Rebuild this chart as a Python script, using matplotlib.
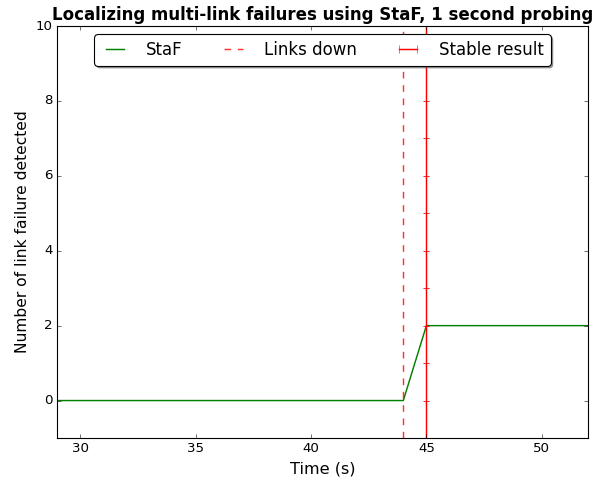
import matplotlib
matplotlib.use('Agg')
import matplotlib.pyplot as plt
from matplotlib.lines import Line2D

plt.style.use('classic')

# data
staf_t = [29, 44, 45, 52]
staf_n = [0, 0, 2, 2]
links_down_t = 44
stable_t = 45
stable_y = list(range(-1, 11))

fig = plt.figure(figsize=(594 / 80, 479 / 80), dpi=80)
ax = fig.add_axes([57 / 594, 41 / 479, 531 / 594, 412 / 479])

h1, = ax.plot(staf_t, staf_n, color='g', linestyle='-', lw=1.3, label='StaF')
h2 = ax.axvline(links_down_t, color='r', linestyle='--', lw=1.3, alpha=0.8,
                label='Links down')
ax.errorbar([stable_t] * len(stable_y), stable_y, yerr=0.0, color='r',
            linestyle='-', lw=1.3, capsize=3)
# legend proxy for the stable-result line
h3 = Line2D([], [], color='r', lw=1.3, marker='|', markersize=8,
            label='Stable result')

ax.set_xlim(29, 52)
ax.set_ylim(-1, 10)
ax.set_xticks([30, 35, 40, 45, 50])
ax.set_yticks([0, 2, 4, 6, 8, 10])
ax.set_xlabel('Time (s)', fontsize=14.5)
ax.set_ylabel('Number of link failure detected', fontsize=14)
ax.set_title('Localizing multi-link failures using StaF, 1 second probing',
             fontweight='bold', fontsize=15)
ax.legend(handles=[h1, h2, h3], loc='upper center', ncol=3, fancybox=True,
          shadow=True, numpoints=2, fontsize=15, handlelength=1.7,
          handletextpad=1.0, columnspacing=2.2)

fig.savefig('out.png', dpi=80)
